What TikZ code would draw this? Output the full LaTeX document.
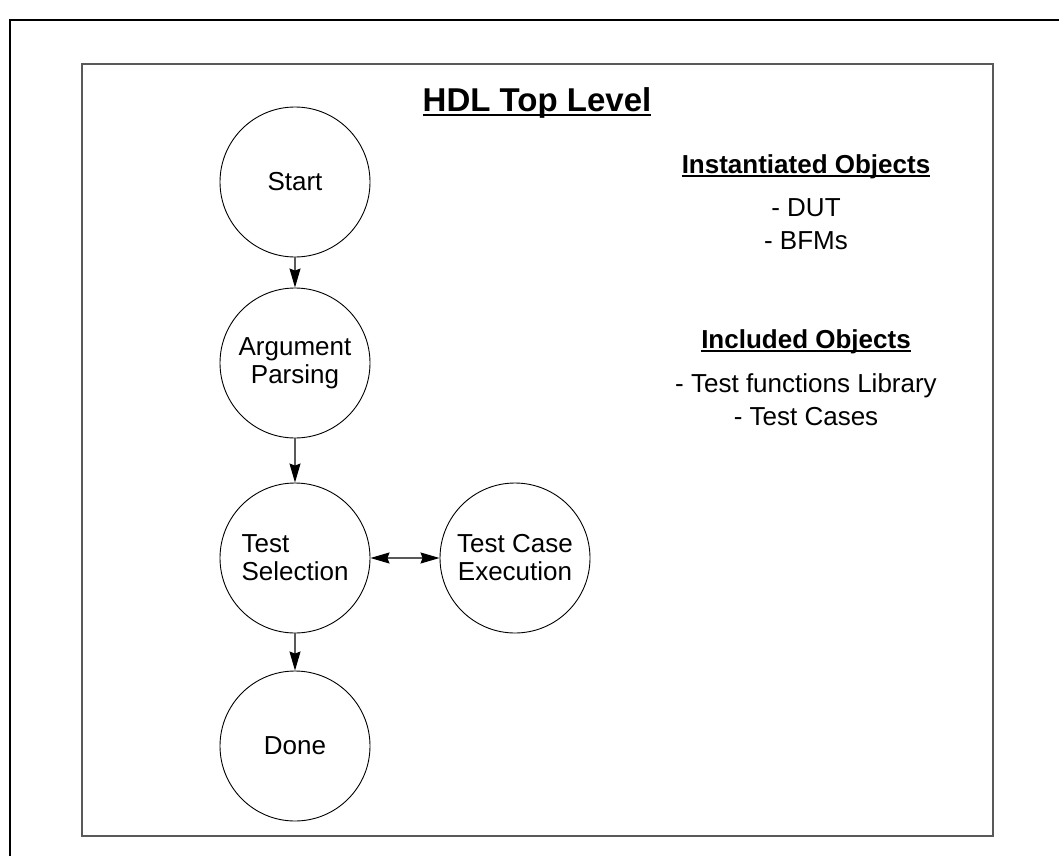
\documentclass[tikz,border=0pt]{standalone}
\usepackage{fontspec}
\setmainfont{Liberation Sans}
\usetikzlibrary{arrows.meta, positioning}
\tikzset{
  estado/.style={circle, draw=black, line width=0.9pt, minimum size=150pt,
                 inner sep=0pt, align=center,
                 font=\fontsize{26}{28}\selectfont},
  flecha/.style={-{Stealth[length=19pt, width=11pt, inset=2pt, color=black]},
                 draw=black!65, line width=1.2pt},
  flechas/.style={{Stealth[length=19pt, width=11pt, inset=2pt, color=black]}-{Stealth[length=19pt, width=11pt, inset=2pt, color=black]},
                  draw=black!65, line width=1.2pt}
}

\begin{document}
\begin{tikzpicture}[
  x=1pt, y=-1pt,
  encabezado/.style={font=\fontsize{26}{28}\selectfont\bfseries,
                     inner sep=0pt, anchor=base},
  lista/.style={font=\fontsize{26}{28}\selectfont, inner sep=0pt,
                anchor=base},
  subrayado/.style={line width=2.4pt}
]
  \useasboundingbox (0,0) rectangle (1059,856);

  % ── Marcos ──
  \draw[line width=2pt] (10,856) -- (10,20) -- (1059,20);
  \draw[black!65, line width=1.5pt] (82,64) rectangle (993,836);

  % ── Titulo ──
  \node[encabezado, font=\fontsize{33}{36}\selectfont\bfseries] (titulo)
        at (537,111) {HDL Top Level};
  \draw[subrayado] ([yshift=-4pt]titulo.base west) -- ([yshift=-4pt]titulo.base east);

  % ── Estados ──
  \node[estado]             (inicio)     at (295,182) {Start};
  \node[estado]             (argumentos) at (295,363) {Argument\\Parsing};
  \node[estado, align=left] (seleccion)  at (295,558) {Test\\Selection};
  \node[estado]             (ejecucion)  at (515,558) {Test Case\\Execution};
  \node[estado]             (fin)        at (295,746) {Done};

  % ── Flechas ──
  \draw[flecha]  (inicio)     -- (argumentos);
  \draw[flecha]  (argumentos) -- (seleccion);
  \draw[flecha]  (seleccion)  -- (fin);
  \draw[flechas] (seleccion)  -- (ejecucion);

  % ── Objetos ──
  \node[encabezado] (instanciados) at (806,173) {Instantiated Objects};
  \draw[subrayado] ([yshift=-3pt]instanciados.base west) -- ([yshift=-3pt]instanciados.base east);
  \node[lista]      (dut)          at (806,216) {- DUT};
  \node[lista]      (bfm)          at (806,249) {- BFMs};

  \node[encabezado] (incluidos)    at (806,348) {Included Objects};
  \draw[subrayado] ([yshift=-3pt]incluidos.base west) -- ([yshift=-3pt]incluidos.base east);
  \node[lista]      (biblioteca)   at (806,392) {- Test functions Library};
  \node[lista]      (casos)        at (806,425) {- Test Cases};
\end{tikzpicture}
\end{document}
